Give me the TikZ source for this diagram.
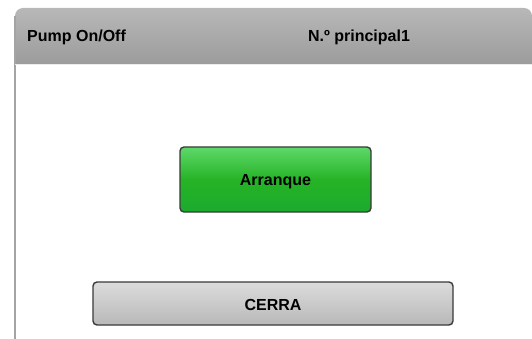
\documentclass[tikz,border=0pt]{standalone}
\usepackage{fontspec}
\setmainfont{Liberation Sans}
\definecolor{barTop}{HTML}{B8B8B8}
\definecolor{barBot}{HTML}{9C9C9C}
\definecolor{edgeGray}{HTML}{A4A4A4}
\definecolor{btnGreenTop}{HTML}{5ED86A}
\definecolor{btnGreenBot}{HTML}{1CAA2E}
\definecolor{btnGrayTop}{HTML}{DCDCDC}
\definecolor{btnGrayBot}{HTML}{B8B8B8}
\definecolor{btnEdge}{HTML}{3A3A3A}
\tikzset{
  btnlabel/.style={font=\bfseries\fontsize{16}{18}\selectfont, text=black, inner sep=0pt},
  hmibutton/.style={draw=btnEdge, line width=1.4pt, rounded corners=4pt}
}
\begin{document}
\begin{tikzpicture}[x=1pt,y=-1pt]
   \useasboundingbox (0,0) rectangle (532,339);
   \fill[white] (0,0) rectangle (532,339);
   % header bar
   \shade[top color=barTop, bottom color=barBot]
      (15,64) -- (15,16) [rounded corners=8pt] -- (15,8) -- (532,8) [sharp corners] -- (532,64) -- cycle;
   \draw[edgeGray, line width=1.5pt] (15,339) -- (15,16);
   \draw[white!85!gray, line width=.6pt] (15,64.5) -- (532,64.5);
   \node[btnlabel, anchor=west] (title) at (27,37) {Pump On/Off};
   \node[btnlabel] (pump) at (359,37) {N.º principal1};
   % buttons
   \shade[hmibutton, top color=btnGreenTop, bottom color=btnGreenBot, middle color=green!65!black!85]
      (180,147) rectangle (371,212);
   \node[btnlabel] (start) at (275.5,182) {Arranque};
   \shade[hmibutton, top color=btnGrayTop, bottom color=btnGrayBot]
      (93,282) rectangle (453,325);
   \node[btnlabel] (close) at (273,305) {CERRA};
\end{tikzpicture}
\end{document}
